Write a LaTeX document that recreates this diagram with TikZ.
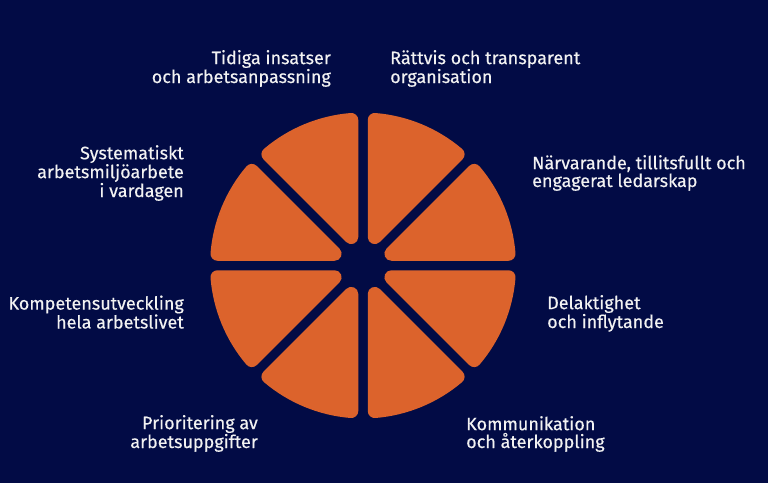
\documentclass[tikz,border=0pt]{standalone}
\usepackage{fontspec}
\setmainfont{Fira Sans}[FakeBold=0.3]
\definecolor{navy}{HTML}{020B45}
\definecolor{orng}{HTML}{DC632C}
\definecolor{txt}{HTML}{F2F2F2}
\begin{document}
\begin{tikzpicture}[x=1pt,y=-1pt,
  wedge/.style={fill=orng, draw=orng, line width=14pt, line join=round},
  lbl/.style={text=txt, inner sep=0pt, font=\fontsize{18}{17.8}\selectfont}]
\fill[navy] (0,0) rectangle (768,483);
\useasboundingbox (0,0) rectangle (768,483);
\pgfmathsetmacro\rr{7}
\pgfmathsetmacro\hh{4.75+\rr}
\pgfmathsetmacro\Rp{153-\rr}
\pgfmathsetmacro\dd{\hh/sin(22.5)}
\pgfmathsetmacro\dl{asin(\hh/\Rp)}
\begin{scope}[shift={(363,265.5)}]
\foreach \i in {0,...,7}{
  \pgfmathsetmacro\bb{45*\i+\dl}
  \pgfmathsetmacro\ee{45*\i+45-\dl}
  \pgfmathsetmacro\mm{45*\i+22.5}
  \filldraw[wedge] (\mm:\dd) -- (\bb:\Rp) arc[start angle=\bb, end angle=\ee, radius=\Rp] -- cycle;
}
\end{scope}
\node[lbl, anchor=base east, align=right] (l1) at (331,83) {Tidiga insatser\\och arbetsanpassning};
\node[lbl, anchor=base west, align=left] (l2) at (390,83) {Rättvis och transparent\\organisation};
\node[lbl, anchor=base west, align=left] (l3) at (532,187) {Närvarande, tillitsfullt och\\engagerat ledarskap};
\node[lbl, anchor=base west, align=left] (l4) at (547,328) {Delaktighet\\och inflytande};
\node[lbl, anchor=base west, align=left] (l5) at (466,448) {Kommunikation\\och återkoppling};
\node[lbl, anchor=base east, align=right] (l6) at (258,448) {Prioritering av\\arbetsuppgifter};
\node[lbl, anchor=base east, align=right] (l7) at (184,328.5) {Kompetensutveckling\\hela arbetslivet};
\node[lbl, anchor=base east, align=right] (l8) at (184,197) {Systematiskt\\arbetsmiljöarbete\\i vardagen};
\end{tikzpicture}
\end{document}
